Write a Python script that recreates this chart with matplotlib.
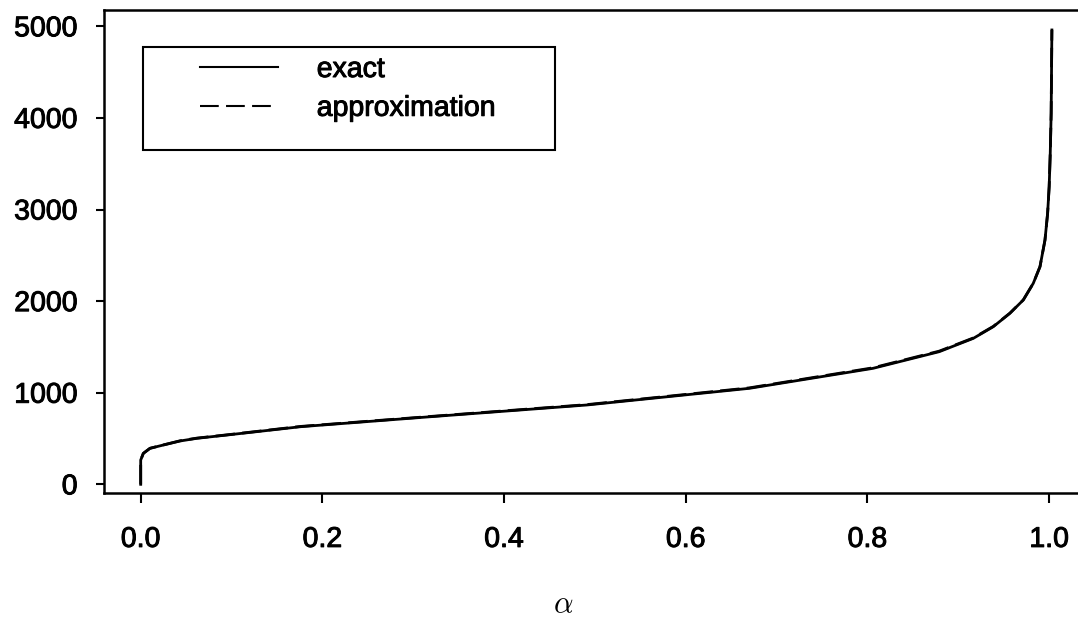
import matplotlib
matplotlib.use("Agg")
import matplotlib.pyplot as plt
import matplotlib.patheffects as pe
from matplotlib.patches import Rectangle
from matplotlib.lines import Line2D

plt.rcParams['font.family'] = ['Liberation Sans', 'DejaVu Sans']
plt.rcParams['mathtext.fontset'] = 'cm'

# data
alpha = [0.0, 0.0, 0.0029, 0.0102, 0.0249, 0.0433, 0.0616, 0.0947, 0.176,
         0.319, 0.491, 0.670, 0.806, 0.879, 0.9166, 0.9385, 0.9568, 0.9715,
         0.9825, 0.9899, 0.9954, 0.9983, 1.0, 1.0012, 1.0022, 1.003]
exact = [0, 265, 338, 393, 429, 473, 502, 538, 629,
         738, 866, 1048, 1266, 1448, 1594, 1721, 1867, 2012,
         2194, 2376, 2667, 2959, 3249, 3614, 4050, 4960]
approximation = [0, 265, 338, 393, 430, 475, 504, 540, 632,
                 741, 870, 1053, 1272, 1454, 1598, 1724, 1869, 2013,
                 2194, 2376, 2667, 2959, 3249, 3614, 4050, 4960]

xticks = [0.0, 0.2, 0.4, 0.6, 0.8, 1.0]
xtick_labels = ["0.0", "0.2", "0.4", "0.6", "0.8", "1.0"]
yticks = [0, 1000, 2000, 3000, 4000, 5000]
ytick_labels = ["0", "1000", "2000", "3000", "4000", "5000"]
series_labels = ["exact", "approximation"]

W, H = 1078, 620
fig = plt.figure(figsize=(W / 100, H / 100), dpi=100)
left = 104 / W
bottom = 1 - 493.3 / H
top = 1 - 10 / H
right = 1085.5 / W
ax = fig.add_axes([left, bottom, right - left, top - bottom])

ax.plot(alpha, exact, color='black', lw=2.0, solid_joinstyle='round')
ax.plot(alpha, approximation, color='black', lw=2.0, dashes=(7, 2.6))

ax.set_xlim(-0.0404, 1.04)
ax.set_ylim(-98, 5178)

ax.set_xticks(xticks)
ax.set_xticklabels(xtick_labels)
ax.set_yticks(yticks)
ax.set_yticklabels(ytick_labels)
ax.tick_params(axis='x', direction='out', length=7.2, width=1.5, pad=17,
               labelsize=20.5)
ax.tick_params(axis='y', direction='out', length=6.0, width=1.5, pad=13,
               labelsize=20.5)
for s in ax.spines.values():
    s.set_linewidth(1.8)

stroke = [pe.withStroke(linewidth=0.7, foreground='black')]
for t in ax.get_xticklabels() + ax.get_yticklabels():
    t.set_path_effects(stroke)

ax.set_xlabel(r'$\alpha$', fontsize=22)
ax.xaxis.set_label_coords((563 - 104) / (1085.5 - 104), -(605 - 493.3) / (493.3 - 10))
ax.xaxis.label.set_verticalalignment('center')

# legend frame
fig.add_artist(Rectangle((143 / W, 1 - 150 / H), (555 - 143) / W, 103 / H,
                         transform=fig.transFigure, fill=False,
                         edgecolor='black', lw=1.5))
h1 = Line2D([], [], color='black', lw=1.5)
h2 = Line2D([], [], color='black', lw=1.5, dashes=(9, 3.5))
leg = ax.legend([h1, h2], series_labels, frameon=False, fontsize=20.5,
                loc='upper left', bbox_to_anchor=(200 / W, 1 - 57 / H),
                bbox_transform=fig.transFigure, borderpad=0, borderaxespad=0,
                handlelength=2.75, handletextpad=1.35, labelspacing=0.45)
for t in leg.get_texts():
    t.set_path_effects(stroke)

fig.savefig('out.png', dpi=100)
